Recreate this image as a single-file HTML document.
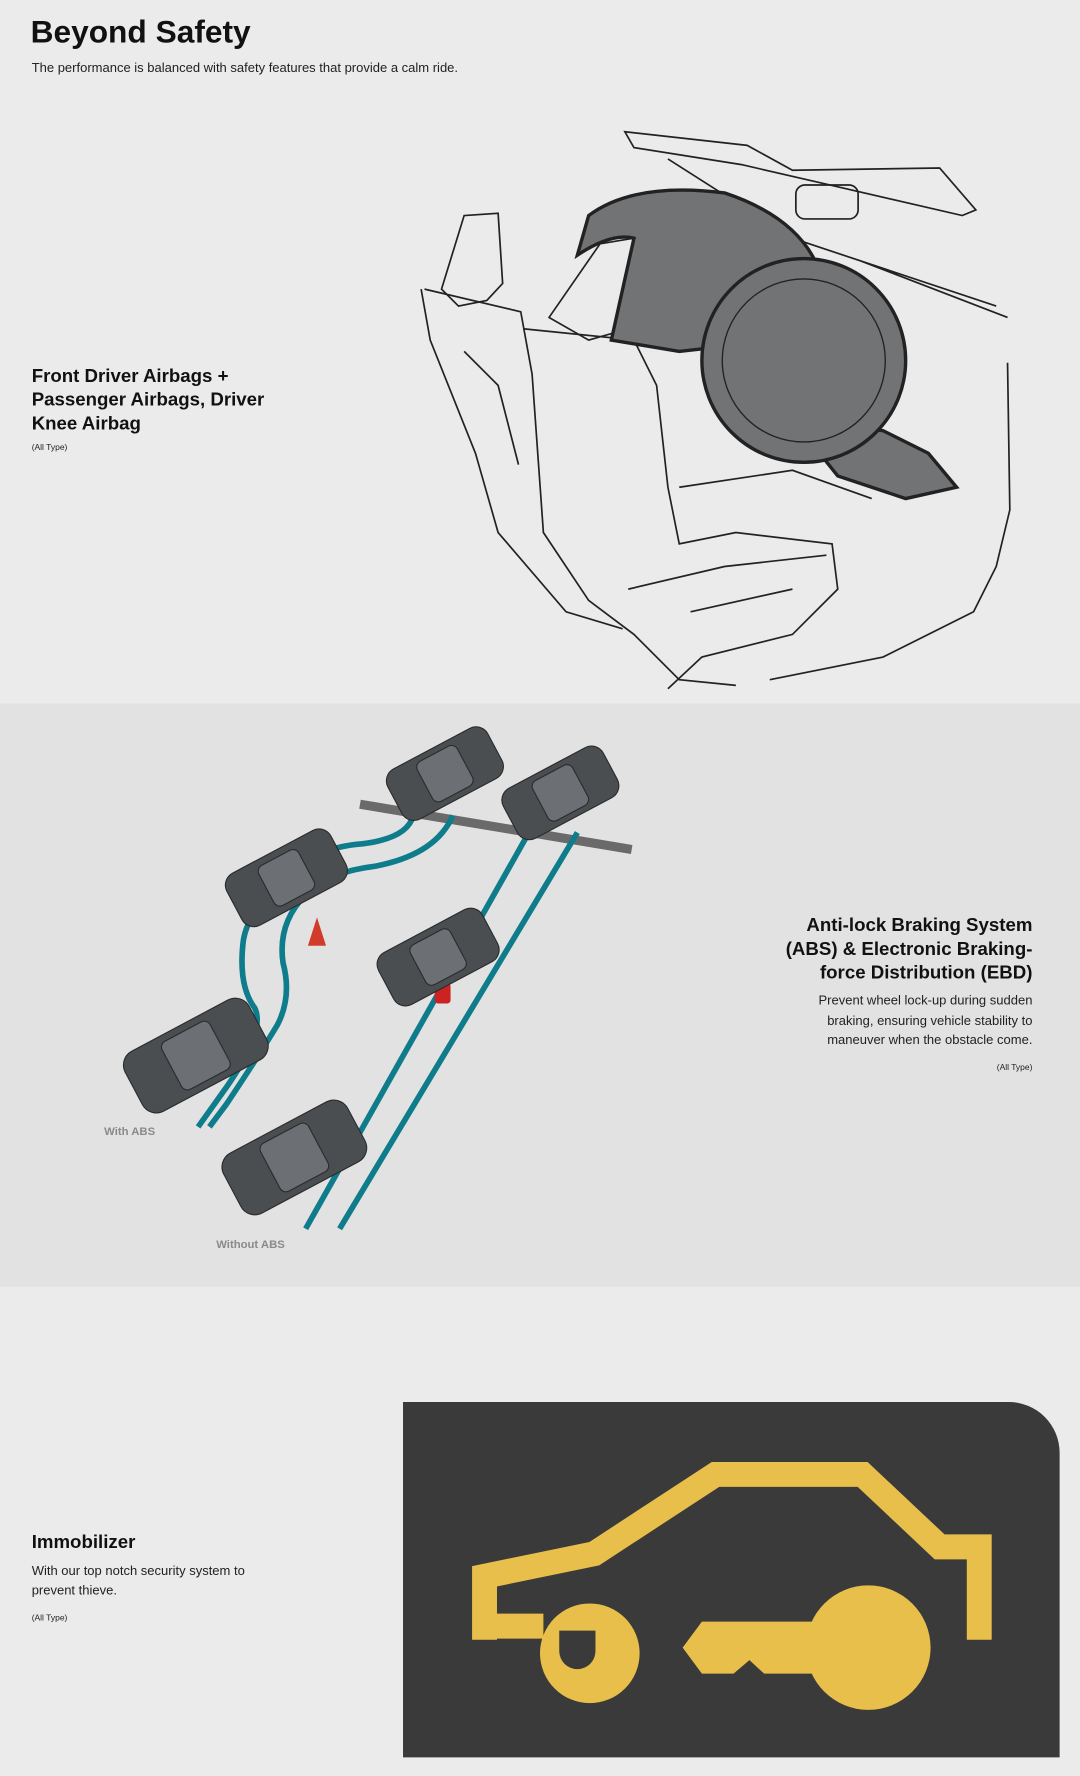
<!DOCTYPE html>
<html><head><meta charset="utf-8"><style>
html,body{margin:0;padding:0;width:1080px;height:1776px;overflow:hidden;background:#ebebeb}
svg{display:block}
text{font-family:"Liberation Sans",sans-serif}
</style></head><body>
<svg width="1080" height="1776" viewBox="0 0 954 1568" xmlns="http://www.w3.org/2000/svg">
<rect x="0" y="0" width="954" height="621" fill="#ebebeb"/>
<rect x="0" y="621" width="954" height="515" fill="#e2e2e2"/>
<rect x="0" y="1136" width="954" height="432" fill="#ebebeb"/>

<text x="27" y="37" font-size="28" font-weight="bold" fill="#111">Beyond Safety</text>
<text x="28" y="63" font-size="11.5" fill="#222">The performance is balanced with safety features that provide a calm ride.</text>

<text font-size="16.5" font-weight="bold" fill="#111"><tspan x="28" y="337">Front Driver Airbags +</tspan><tspan x="28" y="358">Passenger Airbags, Driver</tspan><tspan x="28" y="379">Knee Airbag</tspan></text>
<text x="28" y="397" font-size="7.5" fill="#222">(All Type)</text>

<!-- airbag illustration -->
<g fill="none" stroke="#222" stroke-width="1.5">
<path d="M552 116 L660 128 L700 150 L830 148 L862 185 L850 190 L720 160 L655 145 L560 130 Z"/>
<rect x="703" y="163" width="55" height="30" rx="8"/>
<path d="M590 140 L700 210 L880 270 M760 230 L890 280 M890 320 L892 450 L880 500 L860 540 L780 580 L680 600"/>
<path d="M410 190 L440 188 L444 250 L430 265 L405 270 L390 255 Z"/>
<path d="M375 255 L460 275 L470 330 L480 470 L520 530 L560 560 L600 600 L650 605"/>
<path d="M372 255 L380 300 L420 400 L440 470 L500 540 L550 555"/>
<path d="M485 280 L530 215 L560 210 L555 290 L520 300 Z"/>
<path d="M462 290 L560 300 L580 340 L590 430 L600 480 L650 470 L735 480 L740 520 L700 560 L620 580 L590 608"/>
<path d="M555 520 L640 500 L730 490 M600 430 L700 415 L770 440 M610 540 L700 520"/>
<path d="M410 310 L440 340 L458 410"/>
</g>
<path d="M520 190 Q560 160 640 170 Q700 190 720 230 L690 300 L600 310 L540 300 L560 210 Q540 205 510 225 Z" fill="#727375" stroke="#222" stroke-width="3"/>
<path d="M700 370 L780 380 L820 400 L845 430 L800 440 L740 420 Z" fill="#727375" stroke="#222" stroke-width="3"/>
<circle cx="710" cy="318" r="90" fill="#727375" stroke="#222" stroke-width="3"/>
<circle cx="710" cy="318" r="72" fill="none" stroke="#222" stroke-width="1.2"/>

<!-- ABS section -->
<line x1="318" y1="710" x2="558" y2="750" stroke="#6a6a6a" stroke-width="8"/>
<g fill="none" stroke="#0e7c8a" stroke-width="5">
<path d="M365 720 Q360 740 320 745 Q280 748 260 770 Q220 800 215 830 Q210 870 225 890 Q235 910 200 960 L175 995"/>
<path d="M400 720 Q385 755 330 765 Q290 770 270 790 Q245 815 250 850 Q258 880 245 905 Q230 930 200 975 L185 995"/>
<path d="M470 730 L270 1085"/>
<path d="M510 735 L300 1085"/>
</g>
<path d="M272 835 L280 810 L288 835 Z" fill="#d23a2a"/>
<rect x="384" y="868" width="14" height="18" rx="3" fill="#cc2222"/>
<g fill="#4b4e51" stroke="#2a2b2c" stroke-width="1">
<g transform="translate(393,683) rotate(-28)"><rect x="-50" y="-25" width="100" height="50" rx="12"/><rect x="-20" y="-20" width="40" height="40" rx="6" fill="#6c7074"/></g>
<g transform="translate(495,700) rotate(-28)"><rect x="-50" y="-25" width="100" height="50" rx="12"/><rect x="-20" y="-20" width="40" height="40" rx="6" fill="#6c7074"/></g>
<g transform="translate(253,775) rotate(-28)"><rect x="-52" y="-26" width="104" height="52" rx="12"/><rect x="-20" y="-20" width="40" height="40" rx="6" fill="#6c7074"/></g>
<g transform="translate(387,845) rotate(-28)"><rect x="-52" y="-26" width="104" height="52" rx="12"/><rect x="-20" y="-20" width="40" height="40" rx="6" fill="#6c7074"/></g>
<g transform="translate(173,932) rotate(-28)"><rect x="-62" y="-30" width="124" height="60" rx="14"/><rect x="-24" y="-24" width="48" height="48" rx="6" fill="#6c7074"/></g>
<g transform="translate(260,1022) rotate(-28)"><rect x="-62" y="-30" width="124" height="60" rx="14"/><rect x="-24" y="-24" width="48" height="48" rx="6" fill="#6c7074"/></g>
</g>
<text x="92" y="1002" font-size="10" font-weight="bold" fill="#8a8a8a">With ABS</text>
<text x="191" y="1102" font-size="10" font-weight="bold" fill="#8a8a8a">Without ABS</text>

<g text-anchor="end">
<text font-size="16.5" font-weight="bold" fill="#111"><tspan x="912" y="822">Anti-lock Braking System</tspan><tspan x="912" y="843">(ABS) &amp; Electronic Braking-</tspan><tspan x="912" y="864">force Distribution (EBD)</tspan></text>
<text font-size="11.5" fill="#222"><tspan x="912" y="887">Prevent wheel lock-up during sudden</tspan><tspan x="912" y="905">braking, ensuring vehicle stability to</tspan><tspan x="912" y="922">maneuver when the obstacle come.</tspan></text>
<text x="912" y="945" font-size="7.5" fill="#222">(All Type)</text>
</g>

<!-- Immobilizer -->
<text x="28" y="1367" font-size="16.5" font-weight="bold" fill="#111">Immobilizer</text>
<text font-size="11.5" fill="#222"><tspan x="28" y="1391">With our top notch security system to</tspan><tspan x="28" y="1408">prevent thieve.</tspan></text>
<text x="28" y="1431" font-size="7.5" fill="#222">(All Type)</text>
<path d="M356 1238 H891 A45 45 0 0 1 936 1283 V1552 H356 Z" fill="#3a3a3a"/>
<path d="M428 1448 V1392 L525 1372 L632 1302 L762 1302 L830 1366 L865 1366 V1448 M428 1436 H480" fill="none" stroke="#e8bf4a" stroke-width="22" stroke-linejoin="miter"/>
<circle cx="521" cy="1460" r="44" fill="#e8bf4a"/>
<path d="M494 1440 V1458 A16 16 0 0 0 526 1458 V1440 Z" fill="#3a3a3a"/>
<circle cx="767" cy="1455" r="55" fill="#e8bf4a"/>
<path d="M603 1455 L620 1432 L730 1432 L730 1478 L675 1478 L662 1466 L648 1478 L620 1478 Z" fill="#e8bf4a"/>
</svg>
</body></html>
